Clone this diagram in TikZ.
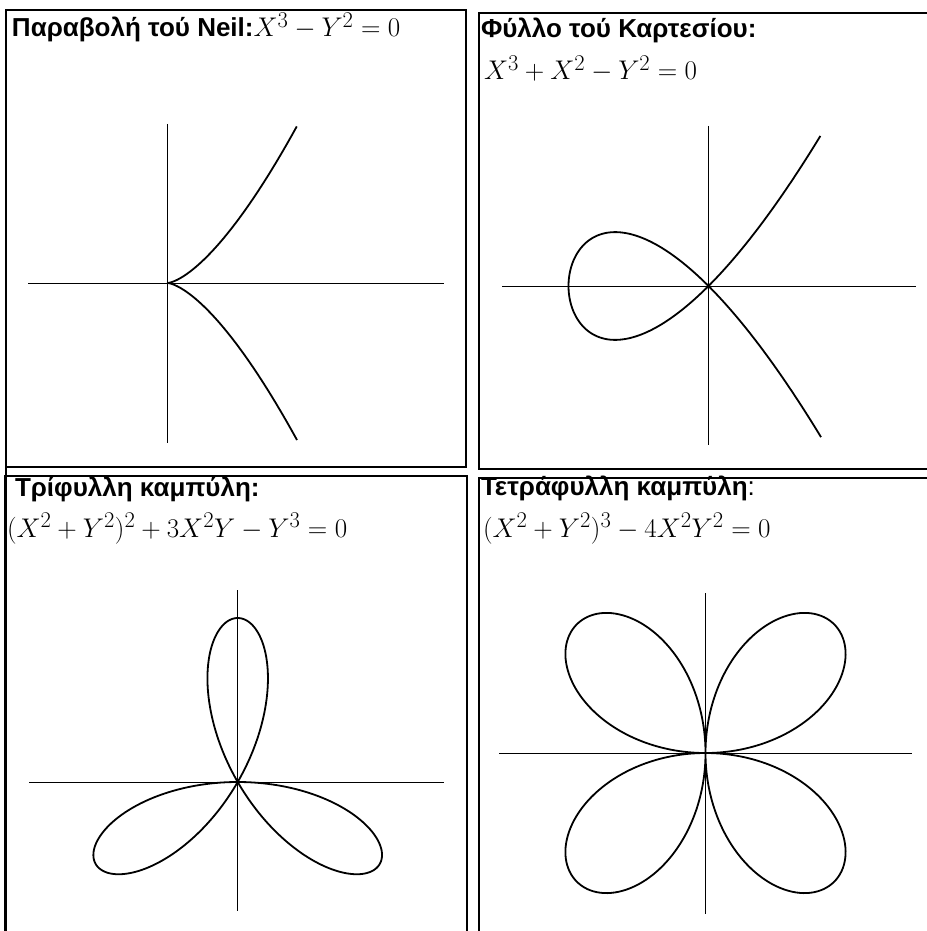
\documentclass[tikz,border=0pt]{standalone}
\usepackage{graphicx}
\usepackage{fontspec}
\newfontfamily\titlefont{Liberation Sans}
\newcommand{\ttl}{\titlefont\bfseries\fontsize{26}{30}\selectfont}
\newcommand{\mth}[1]{\scalebox{1.085}{\fontsize{24.88}{30}\selectfont$#1$}}
\begin{document}
\begin{tikzpicture}[x=1pt,y=-1pt,
  panel/.style={line width=1.3pt},
  axis/.style={line width=0.7pt},
  curve/.style={line width=1.8pt, line join=round},
  lbl/.style={anchor=base west, inner sep=0pt, outer sep=0pt}]
\useasboundingbox (0,0) rectangle (926,931);
% panels
\draw[panel] (6,940) -- (6,10) -- (466,10) -- (466,467) -- (6,467) -- cycle;
\draw[panel] (479,467) -- (479,13) -- (940,13);
\draw[panel] (479,467) -- (479,469) -- (940,469);
\draw[panel] (5,945) -- (5,476) -- (467,476) -- (467,945);
\draw[panel] (479,945) -- (479,478) -- (940,478);
% titles
\node[lbl] (t1) at (12,37) {\ttl Παραβολή τού Neil:\mth{X^3-Y^2=0}};
\node[lbl] (t2) at (481,38) {\ttl Φύλλο τού Καρτεσίου:};
\node[lbl] (f2) at (484,80) {\mth{X^3+X^2-Y^2=0}};
\node[lbl] (t3) at (15,496) {\ttl Τρίφυλλη καμπύλη:};
\node[lbl] (f3) at (7,537) {\mth{(X^2+Y^2)^2+3X^2Y-Y^3=0}};
\node[lbl] (t4) at (481,495) {\ttl Τετράφυλλη καμπύλη{\mdseries:}};
\node[lbl] (f4) at (483,537) {\mth{(X^2+Y^2)^3-4X^2Y^2=0}};
% panel 1: Neil parabola
\draw[axis] (28,283) -- (444,283);
\draw[axis] (167.5,124) -- (167.5,443);
\begin{scope}[shift={(167.5,283)}, x=88.1pt, y=88.1pt]
\draw[curve] plot[domain=-1.2124:1.2124, samples=160, smooth] ({\x*\x},{\x*\x*\x});
\end{scope}
% panel 2: nodal cubic
\draw[axis] (502,286) -- (916,286);
\draw[axis] (708.5,126) -- (708.5,445);
\begin{scope}[shift={(708.5,286)}, x=140pt, y=140pt]
\draw[curve] plot[domain=-1.343:1.343, samples=200, smooth] ({\x*\x-1},{\x*(\x*\x-1)});
\end{scope}
% panel 3: trefoil
\draw[axis] (29,782) -- (444,782);
\draw[axis] (237.7,590) -- (237.7,911);
\begin{scope}[shift={(237.7,782)}, x=164pt, y=164pt]
\draw[curve] plot[domain=0:180, samples=361, smooth] ({-sin(3*\x)*cos(\x)},{-sin(3*\x)*sin(\x)}) -- cycle;
\end{scope}
% panel 4: quadrifolium
\draw[axis] (499,753) -- (912,753);
\draw[axis] (705.5,593) -- (705.5,914);
\begin{scope}[shift={(705.5,753)}, x=182pt, y=182pt]
\draw[curve] plot[domain=0:360, samples=361, smooth] ({abs(sin(2*\x))*cos(\x)},{abs(sin(2*\x))*sin(\x)}) -- cycle;
\end{scope}
\end{tikzpicture}
\end{document}
